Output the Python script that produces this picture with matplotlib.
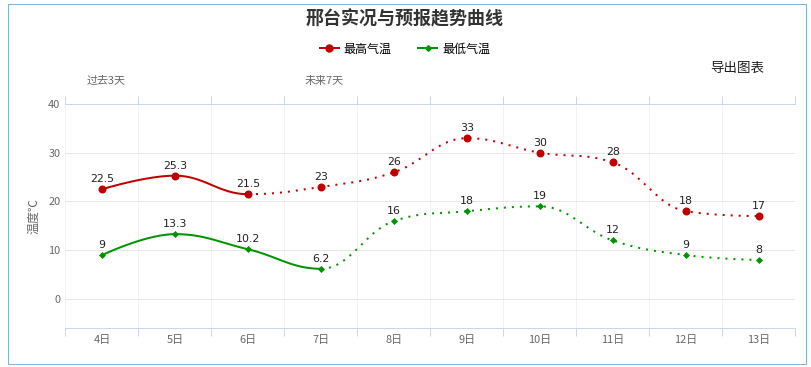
import matplotlib
matplotlib.use("Agg")
import matplotlib.pyplot as plt
from matplotlib.lines import Line2D
from matplotlib.patches import Rectangle
import numpy as np

plt.rcParams['font.family'] = ['Noto Sans CJK SC', 'DejaVu Sans']

days = ['4日', '5日', '6日', '7日', '8日', '9日', '10日', '11日', '12日', '13日']
high = [22.5, 25.3, 21.5, 23, 26, 33, 30, 28, 18, 17]
low = [9, 13.3, 10.2, 6.2, 16, 18, 19, 12, 9, 8]
high_labels = ['22.5', '25.3', '21.5', '23', '26', '33', '30', '28', '18', '17']
low_labels = ['9', '13.3', '10.2', '6.2', '16', '18', '19', '12', '9', '8']
high_split = 2   # last observed point index (solid up to here)
low_split = 3

RED = '#c00000'
GREEN = '#009300'
AXIS = '#ccd6eb'
PX = 0.72  # points per pixel at dpi 100


def spline_segments(xs, ys, smoothing=1.5):
    # highcharts style spline: control points per point, one cubic per segment
    n = len(xs)
    lc = [(xs[i], ys[i]) for i in range(n)]
    rc = [(xs[i], ys[i]) for i in range(n)]
    d = smoothing + 1
    for i in range(1, n - 1):
        px, py = xs[i], ys[i]
        lx, ly = xs[i - 1], ys[i - 1]
        nx, ny = xs[i + 1], ys[i + 1]
        lcx = (smoothing * px + lx) / d
        lcy = (smoothing * py + ly) / d
        rcx = (smoothing * px + nx) / d
        rcy = (smoothing * py + ny) / d
        if rcx != lcx:
            corr = (rcy - lcy) * (rcx - px) / (rcx - lcx) + py - rcy
            lcy += corr
            rcy += corr
        if lcy > ly and lcy > py:
            lcy = max(ly, py); rcy = 2 * py - lcy
        elif lcy < ly and lcy < py:
            lcy = min(ly, py); rcy = 2 * py - lcy
        if rcy > ny and rcy > py:
            rcy = max(ny, py); lcy = 2 * py - rcy
        elif rcy < ny and rcy < py:
            rcy = min(ny, py); lcy = 2 * py - rcy
        lc[i] = (lcx, lcy)
        rc[i] = (rcx, rcy)
    t = np.linspace(0, 1, 40)[:, None]
    segs = []
    for i in range(n - 1):
        p0 = np.array([xs[i], ys[i]])
        p1 = np.array(rc[i])
        p2 = np.array(lc[i + 1])
        p3 = np.array([xs[i + 1], ys[i + 1]])
        b = ((1 - t) ** 3) * p0 + 3 * ((1 - t) ** 2) * t * p1 + 3 * (1 - t) * t ** 2 * p2 + t ** 3 * p3
        segs.append(b)
    return segs


fig = plt.figure(figsize=(8.12, 3.67), dpi=100)
W, H = 812, 367
ax = fig.add_axes([65.5 / W, 1 - 328 / H, 730 / W, 224 / H])

x = np.arange(len(days))

for vals, split, color, marker, ms, labels in [
        (high, high_split, RED, 'o', 8, high_labels),
        (low, low_split, GREEN, 'D', 5, low_labels)]:
    segs = spline_segments(list(x.astype(float)), vals)
    solid = np.vstack(segs[:split])
    dotted = np.vstack(segs[split:])
    ax.plot(solid[:, 0], solid[:, 1], color=color, lw=2 * PX, solid_capstyle='round', zorder=3)
    ax.plot(dotted[:, 0], dotted[:, 1], color=color, lw=2 * PX, linestyle=(0, (1, 3)), zorder=3)
    ax.plot(x, vals, linestyle='none', marker=marker, color=color, markersize=ms * PX,
            markeredgewidth=0, zorder=4)
    for xi, v, lab in zip(x, vals, labels):
        ax.annotate(lab, (xi, v), xytext=(0, 5), textcoords='offset pixels',
                    ha='center', va='bottom', fontsize=11 * PX, color='#222222', zorder=5,
                    family=['DejaVu Sans'])

ax.set_xlim(-0.5, len(days) - 0.5)
ax.set_ylim(-5.95, 40)
ax.set_yticks([0, 10, 20, 30, 40])
ax.set_xticks(np.arange(len(days) + 1) - 0.5)
ax.set_xticklabels([])
ax.set_xticks(x, minor=True)
ax.set_xticklabels(days, minor=True)

ax.tick_params(axis='x', which='major', direction='out', length=8 * PX, width=PX,
               color=AXIS, top=True, bottom=True)
ax.tick_params(axis='x', which='minor', length=0, pad=7 * PX, labelsize=11 * PX,
               labelcolor='#666666')
ax.tick_params(axis='y', length=0, pad=5 * PX, labelsize=11 * PX, labelcolor='#666666')

ax.grid(True, axis='y', color='#e6e6e6', lw=PX)
ax.grid(True, axis='x', which='major', color='#f2f2f2', lw=PX)
ax.set_axisbelow(True)
for side in ['left', 'right']:
    ax.spines[side].set_visible(False)
for side in ['top', 'bottom']:
    ax.spines[side].set_color(AXIS)
    ax.spines[side].set_linewidth(PX)

ax.set_ylabel('温度℃', fontsize=12 * PX, color='#666666', labelpad=8 * PX)

ax.annotate('过去3天', xy=(0.05, 1), xycoords=('data', 'axes fraction'), xytext=(0, 23),
            textcoords='offset pixels', ha='center', va='center', fontsize=11 * PX, color='#666666')
ax.annotate('未来7天', xy=(3.05, 1), xycoords=('data', 'axes fraction'), xytext=(0, 23),
            textcoords='offset pixels', ha='center', va='center', fontsize=11 * PX, color='#666666')

fig.text(405 / W, 1 - 19 / H, '邢台实况与预报趋势曲线', ha='center', va='center',
         fontsize=18 * PX, fontweight='bold', color='#333333')
fig.text(737 / W, 1 - 68 / H, '导出图表', ha='center', va='center', fontsize=13.5 * PX, color='#222222')

handles = [Line2D([], [], color=RED, lw=2 * PX, marker='o', markersize=7 * PX),
           Line2D([], [], color=GREEN, lw=2 * PX, marker='D', markersize=4 * PX)]
fig.legend(handles, ['最高气温', '最低气温'], loc='center', bbox_to_anchor=(405 / W, 1 - 49 / H),
           ncol=2, frameon=False, fontsize=12 * PX, handlelength=1.6, handletextpad=0.4,
           columnspacing=2.2)

fig.patches.append(Rectangle((8.5 / W, 1 - 363.5 / H), 798 / W, 360 / H, transform=fig.transFigure,
                             fill=False, edgecolor='#7eb3e6', lw=PX))

fig.savefig('out.png', dpi=100)
